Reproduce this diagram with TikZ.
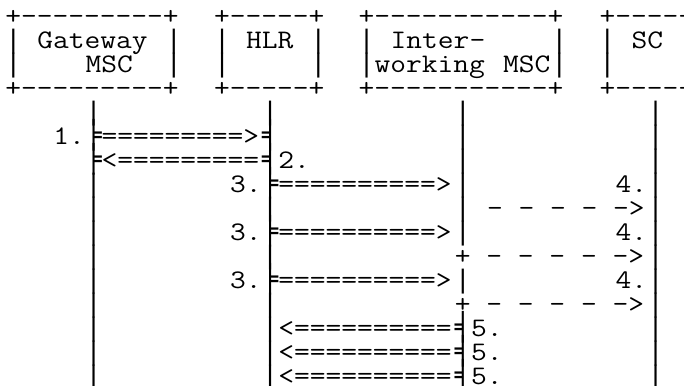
\documentclass[tikz,border=0pt]{standalone}
\usepackage{fontspec}
\setmonofont[FakeStretch=1.1429]{Latin Modern Mono}
\newfontfamily\boxfont{DejaVu Sans Mono}
\newfontfamily\barfont{Liberation Mono}
\tikzset{
  asc/.style={font=\ttfamily\fontsize{26.77pt}{24pt}\selectfont, inner sep=0pt, outer sep=0pt, anchor=base west},
  barc/.style={font=\barfont\fontsize{26.77pt}{24pt}\selectfont, inner sep=0pt, outer sep=0pt, anchor=base},
  bxc/.style={font=\boxfont\fontsize{26.77pt}{24pt}\selectfont, inner sep=0pt, outer sep=0pt, anchor=base}
}
% #1 name, #2 column, #3 row, #4 text
\newcommand\cl[4]{\node[asc] (#1) at ({5.27+16.06*#2},{24.27+24.03*#3}) {#4};}
% vertical bar, centred on its column
\newcommand\vb[3]{\node[barc] (#1) at ({13.3+16.06*#2},{24.27+24.03*#3}) {|};}
% box-drawing junctions, centred on their column
\newcommand\jr[3]{\node[bxc] (#1) at ({13.3+16.06*#2},{24.27+24.03*#3}) {╞};}
\newcommand\jl[3]{\node[bxc] (#1) at ({13.3+16.06*#2},{24.27+24.03*#3}) {╡};}
\begin{document}
\begin{tikzpicture}[x=1pt,y=-1pt]
\useasboundingbox (0,0) rectangle (684,385);
\clip (0,0) rectangle (684,385);
\fill[white] (0,0) rectangle (684,385);
% boxes
\foreach \r in {0,3}{
  \cl{gtop\r}{0}{\r}{+---------+}
  \cl{htop\r}{13}{\r}{+-----+}
  \cl{itop\r}{22}{\r}{+-----------+}
  \cl{stop\r}{37}{\r}{+-----+}
}
\foreach \r in {1,2}{
  \vb{gl\r}{0}{\r}\vb{gr\r}{10}{\r}
  \vb{hl\r}{13}{\r}\vb{hr\r}{19}{\r}
  \vb{il\r}{22}{\r}\vb{ir\r}{34}{\r}
  \vb{sl\r}{37}{\r}\vb{sr\r}{43}{\r}
}
\cl{gname}{2}{1}{Gateway}
\cl{hname}{15}{1}{HLR}
\cl{iname}{24}{1}{Inter-}
\cl{sname}{39}{1}{SC}
\cl{gname2}{5}{2}{MSC}
\cl{iname2}{23}{2}{working}\cl{iname3}{31}{2}{MSC}
% plain lifeline segments
\foreach \r in {4,7,8,9,10,11,12,13,14,15}{\vb{lg\r}{5}{\r}}
\foreach \r in {4,8,10,12,13,14,15}{\vb{lh\r}{16}{\r}}
\foreach \r in {4,5,6,7,8,9,11}{\vb{li\r}{28}{\r}}
\foreach \r in {4,5,6,7,8,9,10,11,12,13,14,15}{\vb{ls\r}{40}{\r}}
% 1. and 2.
\cl{n1}{3}{5}{1.}\jr{j1a}{5}{5}\cl{m1}{6}{5}{=========>}\jl{j1b}{16}{5}
\jr{j2a}{5}{6}\cl{m2}{6}{6}{<=========}\jl{j2b}{16}{6}\cl{n2}{17}{6}{2.}
% 3. and 4.
\foreach \r in {7,9,11}{
  \cl{n3\r}{14}{\r}{3.}\jr{j3\r}{16}{\r}\cl{m3\r}{17}{\r}{==========>}
  \cl{n4\r}{38}{\r}{4.}
}
\cl{m4a}{30}{8}{- - - - ->}
\foreach \r in {10,12}{\cl{m4\r}{28}{\r}{+ - - - - ->}}
% 5.
\foreach \r in {13,14,15}{
  \cl{m5\r}{17}{\r}{<==========}\jl{j5\r}{28}{\r}\cl{n5\r}{29}{\r}{5.}
}
\end{tikzpicture}
\end{document}
